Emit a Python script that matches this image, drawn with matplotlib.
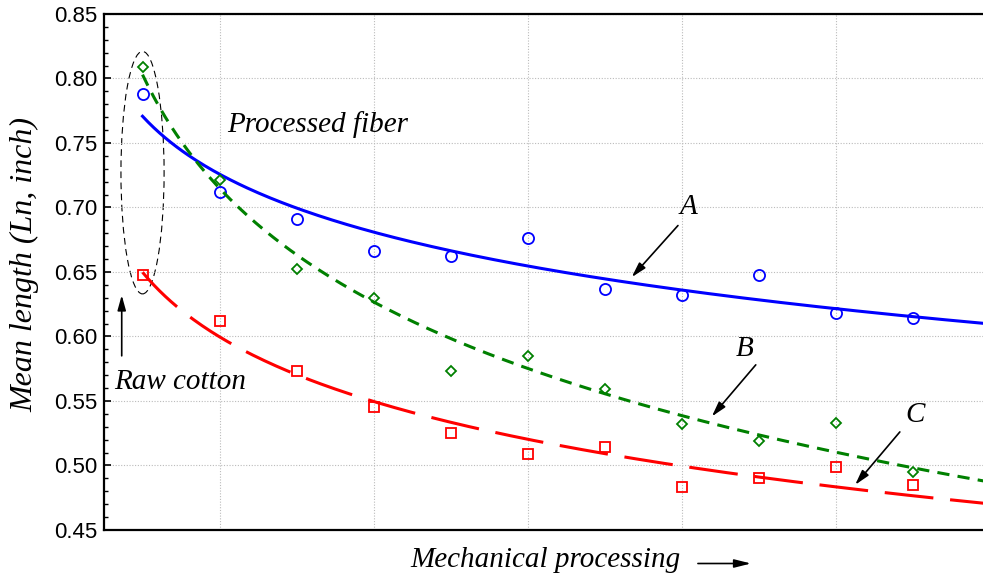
import numpy as np
import matplotlib.pyplot as plt
from matplotlib.patches import Ellipse

# processing stages
stage = np.arange(1, 12)

# mean length (Ln, inch) for each stage
len_a = [0.788, 0.712, 0.691, 0.666, 0.662, 0.676, 0.637, 0.632, 0.648, 0.618, 0.614]
len_b = [0.809, 0.721, 0.652, 0.630, 0.573, 0.585, 0.559, 0.532, 0.519, 0.533, 0.495]
len_c = [0.648, 0.612, 0.573, 0.545, 0.525, 0.509, 0.514, 0.483, 0.490, 0.499, 0.485]

serif = 'Liberation Serif'
fs = 21

fig = plt.figure(figsize=(9.83, 5.75), dpi=100)
ax = fig.add_axes([0.1058, 0.0783, 0.9013, 0.8974])

# logarithmic trend lines fitted to each series
xs = np.linspace(1, 12, 300)
styles = [
    (len_a, 'o', 'blue', 8, dict(linestyle='-')),
    (len_b, 'D', 'green', 5.5, dict(linestyle=(0, (4, 2.7)))),
    (len_c, 's', 'red', 7.5, dict(linestyle=(0, (16, 5.5)))),
]
for ys, mk, col, ms, ls in styles:
    k, b = np.polyfit(np.log(stage), ys, 1)
    ax.plot(xs, b + k * np.log(xs), color=col, lw=2.2, **ls)
    ax.plot(stage, ys, mk, mfc='none', mec=col, ms=ms, mew=1.3, ls='none')

ax.set_xlim(0.5, 12)
ax.set_ylim(0.45, 0.85)
ax.set_yticks(np.arange(0.45, 0.851, 0.05))
ax.set_yticks(np.arange(0.45, 0.851, 0.01), minor=True)
ax.set_yticklabels([f'{v:.2f}' for v in np.arange(0.45, 0.851, 0.05)])
ax.set_xticks([2, 4, 6, 8, 10])
ax.set_xticklabels([])
ax.tick_params(axis='x', length=0)
ax.tick_params(axis='y', which='major', direction='in', length=5, width=1.2,
               labelsize=16, pad=5)
ax.tick_params(axis='y', which='minor', direction='in', length=3, width=1)
for lab in ax.get_yticklabels():
    lab.set_family('Liberation Sans')
ax.grid(True, color='#bbbbbb', linestyle=(0, (1, 1.5)), lw=0.8)
for s in ax.spines.values():
    s.set_linewidth(1.6)

arrow = dict(arrowstyle='-|>,head_length=0.9,head_width=0.25', color='black',
             lw=1.2, shrinkA=0, shrinkB=0)

# raw cotton group
ax.add_patch(Ellipse((1.0, 0.727), 0.56, 0.188, fill=False, ec='black',
                     lw=0.8, ls=(0, (6, 4))))
ax.annotate('', xy=(0.73, 0.632), xytext=(0.73, 0.585), arrowprops=arrow)
ax.text(0.63, 0.565, 'Raw cotton', family=serif, style='italic', fontsize=fs,
        va='center', ha='left', clip_on=False)
ax.text(2.1, 0.764, 'Processed fiber', family=serif, style='italic',
        fontsize=fs, va='center', ha='left')

# curve labels
for lbl, pos, start, tip in [('A', (8.08, 0.700), (7.95, 0.686), (7.35, 0.646)),
                             ('B', (8.82, 0.590), (8.96, 0.578), (8.39, 0.538)),
                             ('C', (11.03, 0.539), (10.83, 0.526), (10.25, 0.485))]:
    ax.text(pos[0], pos[1], lbl, family=serif, style='italic',
            fontsize=fs, ha='center', va='center')
    ax.annotate('', xy=tip, xytext=start, arrowprops=arrow)

ax.set_ylabel('Mean length (Ln, inch)', family=serif, style='italic',
              fontsize=23)
ax.yaxis.set_label_coords(-0.073, 0.515)
fig.text(0.417, 0.026, 'Mechanical processing', family=serif, style='italic',
         fontsize=fs, ha='left', va='center')
ax.annotate('', xy=(0.764, 0.020), xytext=(0.710, 0.020),
            xycoords='figure fraction', textcoords='figure fraction',
            arrowprops=dict(arrowstyle='-|>,head_length=1.0,head_width=0.25',
                            color='black', lw=1.2, shrinkA=0, shrinkB=0))

fig.savefig('out.png', dpi=100)
